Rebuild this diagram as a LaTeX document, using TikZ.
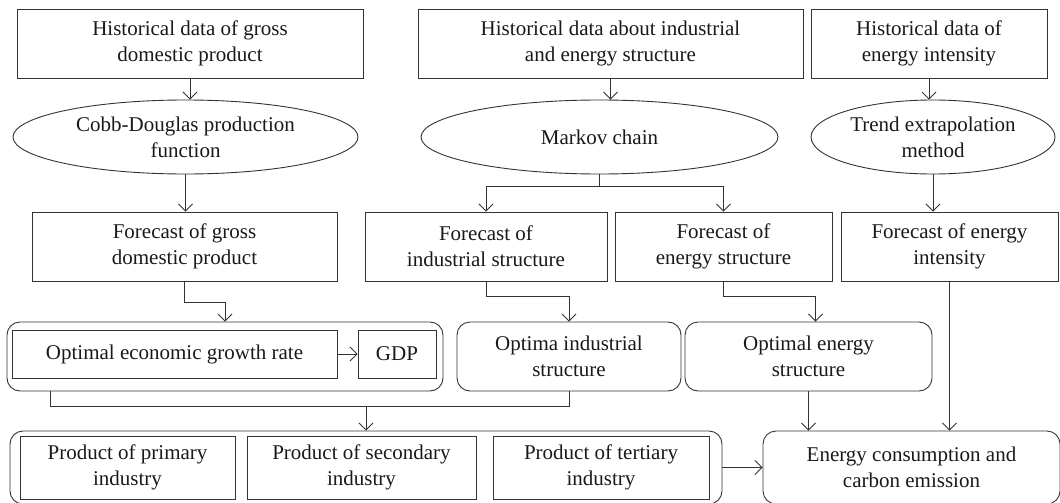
\documentclass[tikz,border=0pt]{standalone}
\usepackage{fontspec}
\setmainfont{Liberation Serif}
\usetikzlibrary{arrows.meta,shapes.geometric}
\tikzstyle{block} = [draw, rectangle, align=center, inner sep=0pt,
    minimum height=69pt]
\tikzstyle{method} = [draw, ellipse, align=center, inner sep=0pt,
    minimum height=74pt]
\tikzstyle{optimum} = [draw, rectangle, rounded corners=13pt, align=center,
    inner sep=0pt, minimum height=69pt]
\tikzstyle{inner} = [draw, rectangle, align=center, inner sep=0pt]

\begin{document}
\begin{tikzpicture}[node distance=2cm, >={Straight Barb[length=7pt,width=14pt]},
    line width=0.9pt, black!80,
    every node/.style={font=\fontsize{21}{26}\selectfont, text=black!90}]
    \useasboundingbox (0,0) rectangle (1060pt,-503pt);
    % historical data
    \node [block, minimum width=346pt] at (190pt,-43.5pt) (hgdp) {Historical data of gross\\ domestic product};
    \node [block, right of=hgdp, node distance=420.5pt, minimum width=385pt] (hstruct) {Historical data about industrial\\ and energy structure};
    \node [block, right of=hstruct, node distance=318.5pt, minimum width=236pt] (hint) {Historical data of\\ energy intensity};
    % methods
    \node [method, below of=hgdp, node distance=93.5pt, xshift=-4.5pt, minimum width=345pt] (cobb) {Cobb-Douglas production\\ function};
    \node [method, below of=hstruct, node distance=93.5pt, xshift=-11pt, minimum width=357pt] (markov) {Markov chain};
    \node [method, below of=hint, node distance=93.5pt, xshift=4pt, minimum width=244pt] (trend) {Trend extrapolation\\ method};
    % forecasts
    \node [block, below of=cobb, node distance=109.5pt, xshift=-1pt, minimum width=305pt] (fgdp) {Forecast of gross\\ domestic product};
    \node [block, right of=fgdp, node distance=301.5pt, minimum width=242pt] (find) {Forecast of\\ industrial structure};
    \node [block, right of=find, node distance=237.5pt, minimum width=217pt] (fen) {Forecast of\\ energy structure};
    \node [block, right of=fen, node distance=226pt, minimum width=217pt] (fint) {Forecast of energy\\ intensity};
    % optima
    \node [optimum, below of=fgdp, node distance=110pt, xshift=40.5pt, minimum width=436pt] (group1) {};
    \node [inner, below of=fgdp, node distance=107.5pt, xshift=-10pt, minimum width=325pt, minimum height=48pt] (econ) {Optimal economic growth rate};
    \node [inner, right of=econ, node distance=222.5pt, minimum width=78pt, minimum height=48pt] (gdp) {GDP};
    \node [optimum, right of=group1, node distance=344pt, minimum width=224pt] (optind) {Optima industrial\\ structure};
    \node [optimum, right of=optind, node distance=239.5pt, minimum width=247pt] (opten) {Optimal energy\\ structure};
    % products and result
    \node [optimum, below of=group1, node distance=111pt, xshift=141pt, minimum width=712pt, minimum height=73pt] (group2) {};
    \node [inner, below of=group1, node distance=111pt, xshift=-97.5pt, minimum width=215pt, minimum height=63pt] (prim) {Product of primary\\ industry};
    \node [inner, right of=prim, node distance=234pt, minimum width=229pt, minimum height=63pt] (sec) {Product of secondary\\ industry};
    \node [inner, right of=sec, node distance=239.5pt, minimum width=216pt, minimum height=63pt] (ter) {Product of tertiary\\ industry};
    \node [optimum, right of=group2, node distance=545.5pt, minimum width=297pt, minimum height=73pt] (energy) {Energy consumption and\\ carbon emission};
    \coordinate (join) at ([yshift=-15pt]group1.south -| group2.north);

    \draw [->] (hgdp.south) -- (hgdp.south |- cobb.north);
    \draw [->] (hstruct.south) -- (hstruct.south |- markov.north);
    \draw [->] (hint.south) -- (hint.south |- trend.north);
    \draw [->] (cobb.south) -- (cobb.south |- fgdp.north);
    \draw [->] (markov.south) -- ++(0,-12pt) -| (find.north);
    \draw [->] (markov.south) -- ++(0,-12pt) -| (fen.north);
    \draw [->] (trend.south) -- (trend.south |- fint.north);
    \draw [->] (fgdp.south) -- ++(0,-21pt) -| (group1.north);
    \draw [->] (find.south) -- ++(0,-15pt) -| (optind.north);
    \draw [->] (fen.south) -- ++(0,-15pt) -| ([xshift=7pt]opten.north);
    \draw [->] (econ) -- (gdp);
    \draw ([xshift=44pt]group1.south west) |- (join) -| (optind.south);
    \draw [->] (join) -- (group2.north);
    \draw [->] (opten.south) -- (opten.south |- energy.north);
    \draw [->] (fint.south) -- (fint.south |- energy.north);
    \draw [->] (group2) -- (energy);
\end{tikzpicture}
\end{document}
